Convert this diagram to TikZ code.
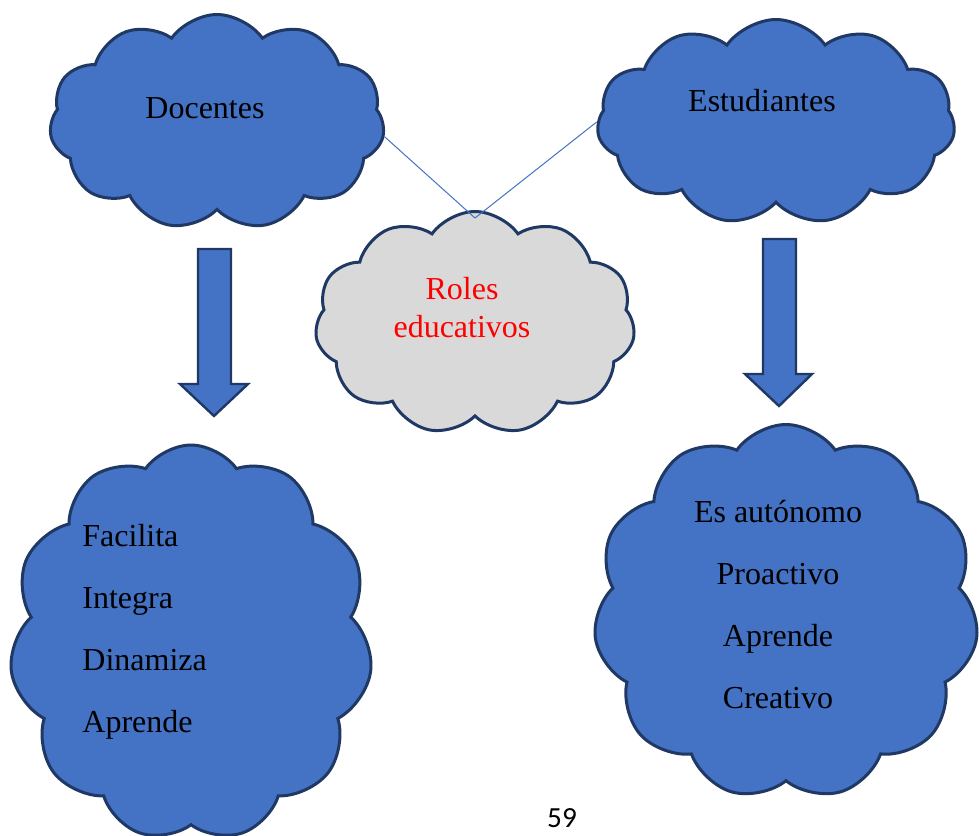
\documentclass[tikz,border=0pt]{standalone}
\usepackage{fontspec}
\setmainfont{Liberation Serif}
\newfontfamily\pagina{Carlito}
\usepackage{xcolor}
\usetikzlibrary{shapes.symbols}

\definecolor{azul}{HTML}{4472C4}
\definecolor{borde}{HTML}{1F3864}
\definecolor{gris}{HTML}{D9D9D9}

\begin{document}
\begin{tikzpicture}[
x=0.5pt, y=-0.5pt,
nube/.style={cloud, cloud puffs=11, cloud puff arc=110, cloud ignores aspect, draw=borde, line width=1.5pt, fill=azul, inner sep=0pt},
texto/.style={font=\fontsize{16}{19}\selectfont, align=center},
lista/.style={font=\fontsize{16}{31}\selectfont},
flecha/.style={draw=borde, line width=1.2pt, fill=azul, line join=miter},
enlace/.style={draw=azul, line width=0.5pt} ]

\useasboundingbox (0,0) rectangle (979,835);

% nubes de arriba
\node[nube, minimum width=167.5pt, minimum height=107.5pt] (docentes) at (217,122) {};
\node[texto] (docentestxt) at (205,108) {Docentes};
\node[nube, minimum width=179pt, minimum height=102.5pt] (estudiantes) at (776,122) {};
\node[texto] (estudiantestxt) at (762,101) {Estudiantes};

% nube central
\node[nube, fill=gris, minimum width=160pt, minimum height=111.5pt] (roles) at (475,323) {};
\node[texto, text=red] (rolestxt) at (462,308) {Roles\\educativos};

\draw[enlace] (docentes.-5) -- ([yshift=-4pt]roles.north);
\draw[enlace] (estudiantes.west) -- ([yshift=-4pt]roles.north);

% flechas
\draw[flecha] (198,249) -- (231,249) -- (231,384) -- (248,384) -- (214,416) -- (180,384) -- (198,384) -- cycle;
\draw[flecha] (763,239) -- (796,239) -- (796,374) -- (812,374) -- (779,406) -- (745,374) -- (763,374) -- cycle;

% nubes de abajo
\node[nube, minimum width=181.5pt, minimum height=198pt] (docentesrol) at (191,643) {};
\node[lista, align=left, anchor=west, inner xsep=0pt] (docenteslista) at (82,632) {Facilita\\Integra\\Dinamiza\\Aprende};
\node[nube, minimum width=192.5pt, minimum height=187.5pt] (estudiantesrol) at (786,612) {};
\node[lista, align=center] (estudianteslista) at (778,605) {Es autónomo\\Proactivo\\Aprende\\Creativo};

\node[font=\pagina\fontsize{14.6}{16}\selectfont] (pagina) at (562,818) {59};

\end{tikzpicture}
\end{document}
